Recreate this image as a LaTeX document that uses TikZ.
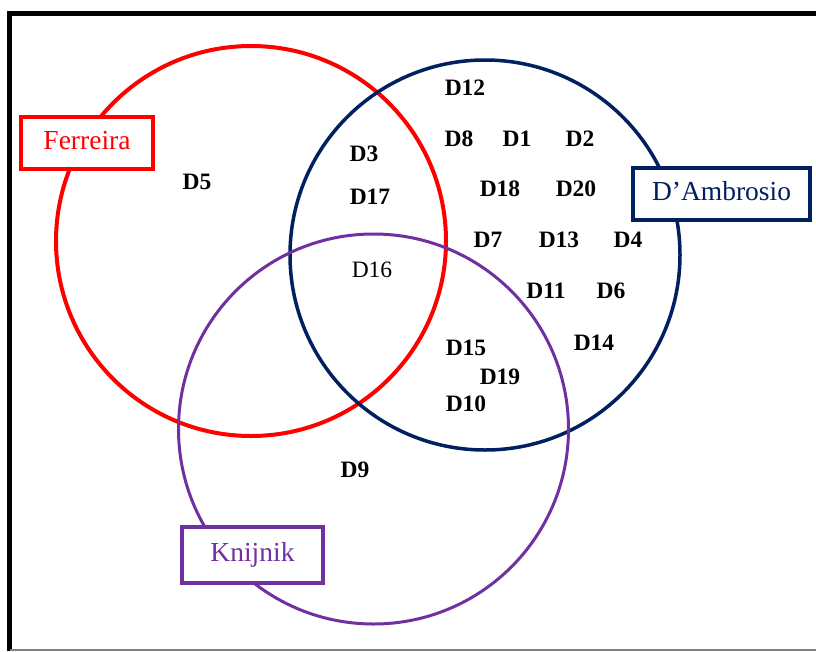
\documentclass[tikz,border=0pt]{standalone}
\usepackage{fontspec}
\setmainfont{Liberation Serif}
\definecolor{ferred}{RGB}{255,0,0}
\definecolor{ambnavy}{RGB}{0,32,96}
\definecolor{knjpurple}{RGB}{112,48,160}
\tikzstyle{ring}=[circle,minimum size=390pt,inner sep=0pt,line width=3pt]
\tikzstyle{ringr}=[ring,draw=ferred,line width=4pt]
\tikzstyle{ringb}=[ring,draw=ambnavy,line width=3.5pt]
\tikzstyle{ringp}=[ring,draw=knjpurple]
\tikzstyle{author}=[rectangle,fill=white,line width=3.5pt,inner sep=0pt,text height=18pt,text depth=5pt,font=\fontsize{27.5}{30}\selectfont]
\tikzstyle{doc}=[inner sep=1pt,font=\fontsize{23.5}{26}\selectfont\bfseries]

\begin{document}
\begin{tikzpicture}[x=1pt,y=-1pt]
    \useasboundingbox (0,0) rectangle (816,651);
    \draw[line width=5pt] (816,13.5) -- (9.5,13.5) -- (9.5,651);
    \draw[gray,line width=1.5pt] (9.5,650) -- (816,650);

    \node[ringr] (ferreira) at (251,241) {};
    \node[ringb] (ambrosio) at (485,255) {};
    \node[ringp] (knijnik) at (373.5,429) {};

    \node[author,draw=ferred,text=ferred,minimum width=132pt,minimum height=52pt] (lf) at (87,143) {Ferreira};
    \node[author,draw=ambnavy,text=ambnavy,minimum width=177pt,minimum height=52pt] (la) at (721.5,194) {D’Ambrosio};
    \node[author,draw=knjpurple,text=knjpurple,minimum width=141pt,minimum height=56pt] (lk) at (252.5,555) {Knijnik};

    \foreach \name/\x/\y in {D12/465/88,D8/459/139,D1/517/139,D2/580/139,D3/364/154,
        D5/197/182,D17/370/197,D18/500/189,D20/576/189,D7/488/240,D13/559/240,
        D4/628/240,D11/546/291,D6/611/291,D15/466/348,D14/594/343,D19/500/377,
        D10/466/404,D9/355/470}
    \node[doc] (\name) at (\x,\y) {\name};
    \node[doc,font=\fontsize{23.5}{26}\selectfont] (D16) at (372,270) {D16};
\end{tikzpicture}
\end{document}
